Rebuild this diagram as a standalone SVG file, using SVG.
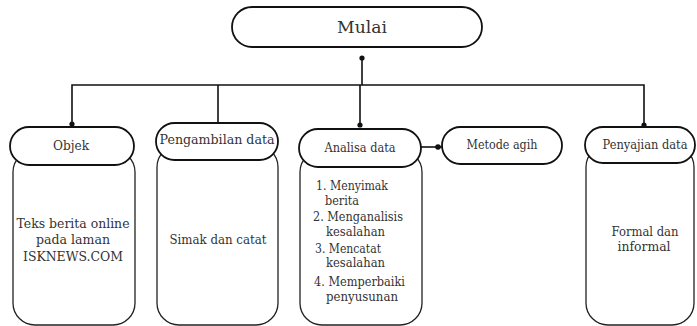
<svg xmlns="http://www.w3.org/2000/svg" width="697" height="326" viewBox="0 0 697 326">
<style>
.box{fill:#fff;stroke:#111;stroke-width:1.8}
.body{fill:#fff;stroke:#222;stroke-width:1.3}
.ln{fill:none;stroke:#111;stroke-width:1.6}
.dot{fill:#111}
text{font-family:"DejaVu Serif","Liberation Serif",serif;fill:#333;font-size:12px}
.c{text-anchor:middle}
</style>
<rect width="697" height="326" fill="#fff"/>
<g id="connectors">
<line class="ln" x1="362" y1="58" x2="362" y2="85"/>
<circle class="dot" cx="362" cy="58" r="2.6"/>
<polyline class="ln" points="72,124 72,85 644,85 644,125"/>
<line class="ln" x1="218" y1="85" x2="218" y2="123"/>
<line class="ln" x1="360" y1="85" x2="360" y2="126"/>
<circle class="dot" cx="72" cy="124" r="2.6"/>
<circle class="dot" cx="360" cy="125" r="2.6"/>
<circle class="dot" cx="644" cy="125" r="2.6"/>
<line class="ln" x1="421" y1="147" x2="442" y2="147"/>
<circle class="dot" cx="438" cy="147" r="2.8"/>
</g>
<g id="mulai">
<rect class="box" x="232" y="7" width="250" height="40" rx="20"/>
<text class="c" x="362" y="33" style="font-size:17px" textLength="50" lengthAdjust="spacingAndGlyphs">Mulai</text>
</g>
<g id="objek">
<rect class="body" x="13" y="150" width="122" height="175" rx="22"/>
<rect class="box" x="10" y="127" width="124" height="38" rx="19"/>
<text class="c" x="71" y="150" textLength="36" lengthAdjust="spacingAndGlyphs">Objek</text>
<text class="c" x="73" y="228" textLength="113" lengthAdjust="spacingAndGlyphs">Teks berita online</text>
<text class="c" x="73" y="244" textLength="74" lengthAdjust="spacingAndGlyphs">pada laman</text>
<text class="c" x="73" y="261" textLength="100" lengthAdjust="spacingAndGlyphs">ISKNEWS.COM</text>
</g>
<g id="pengambilan">
<rect class="body" x="157" y="145" width="121" height="180" rx="22"/>
<rect class="box" x="156" y="123" width="122" height="37" rx="18.5"/>
<text class="c" x="217" y="144" textLength="115" lengthAdjust="spacingAndGlyphs">Pengambilan data</text>
<text class="c" x="218" y="244" textLength="97" lengthAdjust="spacingAndGlyphs">Simak dan catat</text>
</g>
<g id="analisa">
<rect class="body" x="300" y="150" width="122" height="175" rx="22"/>
<rect class="box" x="299" y="129" width="122" height="38" rx="19"/>
<text class="c" x="360" y="152" textLength="71" lengthAdjust="spacingAndGlyphs">Analisa data</text>
<text x="316" y="190" textLength="72" lengthAdjust="spacingAndGlyphs">1. Menyimak</text>
<text x="325" y="205" textLength="34" lengthAdjust="spacingAndGlyphs">berita</text>
<text x="313" y="221" textLength="90" lengthAdjust="spacingAndGlyphs">2. Menganalisis</text>
<text x="326" y="236" textLength="59" lengthAdjust="spacingAndGlyphs">kesalahan</text>
<text x="315" y="253" textLength="66" lengthAdjust="spacingAndGlyphs">3. Mencatat</text>
<text x="326" y="267" textLength="59" lengthAdjust="spacingAndGlyphs">kesalahan</text>
<text x="314" y="286" textLength="91" lengthAdjust="spacingAndGlyphs">4. Memperbaiki</text>
<text x="326" y="301" textLength="72" lengthAdjust="spacingAndGlyphs">penyusunan</text>
</g>
<g id="metode">
<rect class="box" x="442" y="127" width="120" height="37" rx="18.5"/>
<text class="c" x="502" y="149" textLength="71" lengthAdjust="spacingAndGlyphs">Metode agih</text>
</g>
<g id="penyajian">
<rect class="body" x="586" y="145" width="108" height="180" rx="22"/>
<rect class="box" x="585" y="127" width="110" height="36" rx="18"/>
<text class="c" x="645" y="149" textLength="85" lengthAdjust="spacingAndGlyphs">Penyajian data</text>
<text class="c" x="645" y="236" textLength="67" lengthAdjust="spacingAndGlyphs">Formal dan</text>
<text class="c" x="644" y="251" textLength="53" lengthAdjust="spacingAndGlyphs">informal</text>
</g>
</svg>
